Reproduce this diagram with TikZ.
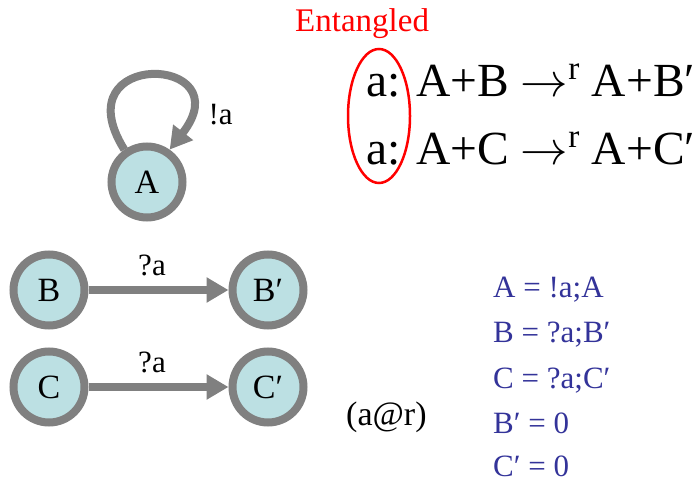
\documentclass[tikz,border=0pt]{standalone}
\usepackage{fix-cm}
\usepackage{fontspec}
\setmainfont{Liberation Serif}
\usetikzlibrary{arrows.meta}
\definecolor{procfill}{HTML}{BCE0E3}
\definecolor{procline}{HTML}{808080}
\definecolor{defblue}{HTML}{333399}
\definecolor{entred}{HTML}{FF0000}

\begin{document}
\begin{tikzpicture}[
  x=1pt, y=1pt,
  proc/.style={circle, draw=procline, line width=8pt, fill=procfill, minimum size=71pt, inner sep=0pt, font=\fontsize{34}{36}\selectfont},
  trans/.style={-{Triangle[length=22pt,width=24pt]}, draw=procline, line width=8pt},
  lbl/.style={anchor=base, font=\fontsize{31}{34}\selectfont},
  eqn/.style={anchor=base west, inner sep=0pt, font=\fontsize{47.5}{50}\selectfont},
  defn/.style={anchor=base west, inner sep=0pt, text=defblue, font=\fontsize{31}{34}\selectfont}
]
\useasboundingbox (0,0) rectangle (700,482);

% processes
\node[proc] (A) at (147,300) {A};
\node[proc] (B) at (49,192) {B};
\node[proc] (B') at (268,192) {B′};
\node[proc] (C) at (49,95) {C};
\node[proc] (C') at (268,95) {C′};

% transitions
\draw[trans] (A.125) to[out=122, in=52, looseness=6.8] (A.55);
\node[lbl, anchor=base west] (senda) at (205,357) {!a};
\draw[trans] (B) -- (B');
\node[lbl] (recvb) at (152,207) {?a};
\draw[trans] (C) -- (C');
\node[lbl] (recvc) at (152,110) {?a};

% reactions
\node[eqn] (rb) at (366,385) {a: A+B $\rightarrow$\textsuperscript{r} A+B′};
\node[eqn] (rc) at (366,317) {a: A+C $\rightarrow$\textsuperscript{r} A+C′};
\draw[entred, line width=2.5pt] (379,366) ellipse [x radius=31, y radius=67];
\node[anchor=base west, inner sep=0pt, text=entred, font=\fontsize{33}{36}\selectfont] (ent) at (295,450) {Entangled};
\node[lbl, anchor=base west, inner sep=0pt, font=\fontsize{34}{36}\selectfont] (rate) at (346,57) {(a@r)};

% definitions
\node[defn] (dA) at (493,185) {A = !a;A};
\node[defn] (dB) at (493,140) {B = ?a;B′};
\node[defn] (dC) at (493,94) {C = ?a;C′};
\node[defn] (dB') at (493,49) {B′ = 0};
\node[defn] (dC') at (493,6) {C′ = 0};

\end{tikzpicture}
\end{document}
